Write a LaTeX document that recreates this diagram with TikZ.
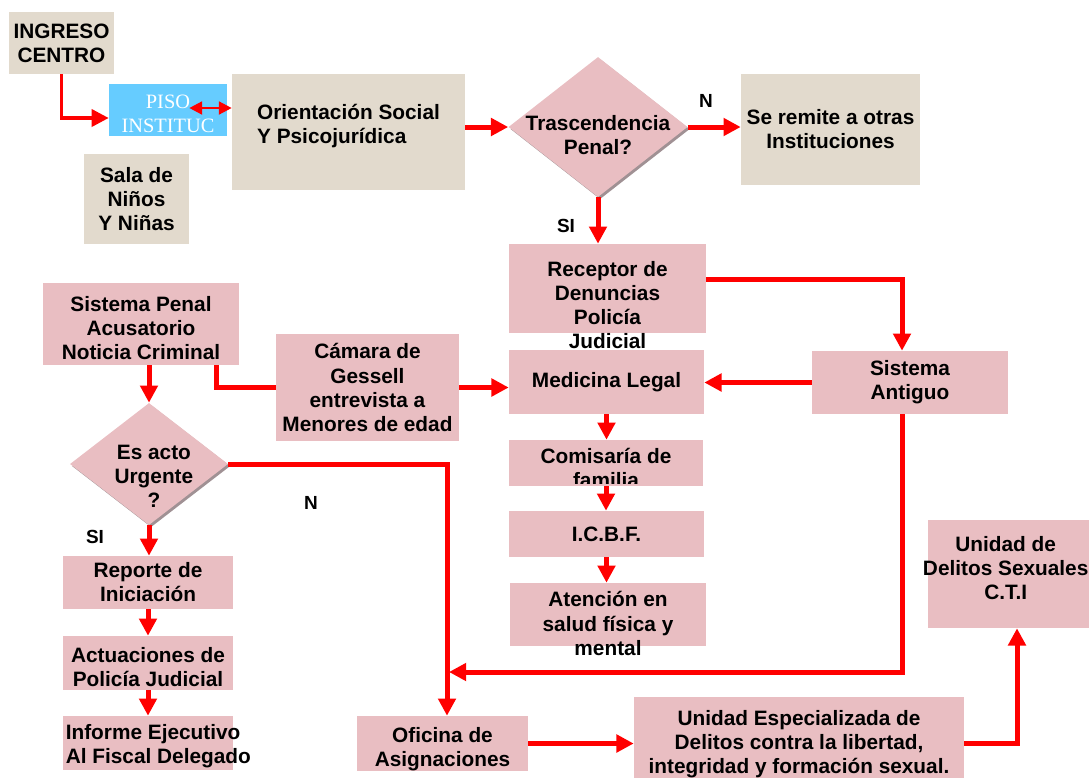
\documentclass[tikz,border=0pt]{standalone}
\usepackage{fontspec}
\setmainfont{Liberation Sans}
\newfontfamily\fuenteserif{Liberation Serif}
\usetikzlibrary{shapes.geometric,arrows.meta,calc,shadows}
\definecolor{fondobeige}{RGB}{226,218,205}
\definecolor{fondorosa}{RGB}{233,190,194}
\definecolor{celeste}{RGB}{102,204,255}
\definecolor{rojo}{RGB}{255,0,0}
\definecolor{sombra}{RGB}{160,145,148}

\tikzset{
  caja/.style={rectangle, inner sep=0pt, align=center, font=\bfseries\fontsize{14.8}{17.1}\selectfont},
  cajabeige/.style={caja, fill=fondobeige},
  cajarosa/.style={caja, fill=fondorosa},
  rombo/.style={diamond, inner sep=0pt, fill=fondorosa, drop shadow={shadow xshift=1.5pt, shadow yshift=-1.5pt, fill=sombra, opacity=1}},
  texto/.style={inner sep=0pt, align=center, font=\bfseries\fontsize{14.8}{17.1}\selectfont},
  etiqueta/.style={inner sep=0pt, font=\bfseries\fontsize{13.5}{15}\selectfont},
  flecha/.style={draw=rojo, line width=0.125cm, -{Triangle[length=0.43cm, width=0.43cm]}},
  linea/.style={draw=rojo, line width=0.125cm},
  dobleflecha/.style={draw=rojo, line width=0.06cm, {Triangle[length=0.32cm, width=0.32cm]}-{Triangle[length=0.32cm, width=0.32cm]}},
}

\begin{document}
\begin{tikzpicture}[x=0.025cm, y=-0.025cm]
\useasboundingbox (0,0) rectangle (1090,778);

% entrada
\node[cajabeige, minimum width=2.625cm, minimum height=1.55cm] (ingreso) at (61.5,43) {INGRESO\\CENTRO};
\node[caja, fill=celeste, minimum width=2.95cm, minimum height=1.3cm, label={[texto, text=white, font=\fuenteserif\fontsize{14.5}{17}\selectfont, yshift=-2.5pt]center:PISO\\INSTITUC}] (piso) at (168,110) {};
\node[cajabeige, minimum width=5.825cm, minimum height=2.9cm, label={[texto, align=left, yshift=4.3pt]center:Orientación Social\\Y Psicojurídica}] (orient) at (348.5,132) {};
\node[cajabeige, minimum width=2.625cm, minimum height=2.25cm] (sala) at (136.5,199) {Sala de\\Niños\\Y Niñas};
\node[rombo, minimum width=4.475cm, minimum height=3.5cm, label={[texto, yshift=-5.8pt]center:Trascendencia\\Penal?}] (trasc) at (598,127) {};
\node[cajabeige, minimum width=4.475cm, minimum height=2.775cm] (remite) at (830.5,129.5) {Se remite a otras\\Instituciones};

% columna central
\node[cajarosa, minimum width=4.875cm, minimum height=1.6cm] (medicina) at (606.5,382) {Medicina Legal};
\node[cajarosa, minimum width=4.925cm, minimum height=2.225cm, label={[texto, yshift=-11.7pt]center:Receptor de\\Denuncias\\Policía\\Judicial}] (receptor) at (607.5,288.5) {};
\node[cajarosa, minimum width=4.85cm, minimum height=1.15cm] (comisaria) at (606,463) {};
\begin{scope}
\clip (comisaria.north west) rectangle ($(comisaria.south east)+(0,-3)$);
\node[texto] (comisariatexto) at ($(comisaria)+(0,4.5)$) {Comisaría de\\familia};
\end{scope}
\node[cajarosa, minimum width=4.875cm, minimum height=1.15cm] (icbf) at (606.5,534) {I.C.B.F.};
\node[cajarosa, minimum width=4.9cm, minimum height=1.575cm, label={[texto, yshift=-6.4pt]center:Atención en\\salud física y\\mental}] (atencion) at (608,614.5) {};
\node[cajarosa, minimum width=4.9cm, minimum height=1.575cm] (antiguo) at (910,382.5) {Sistema\\Antiguo};

% sistema penal acusatorio
\node[cajarosa, minimum width=4.9cm, minimum height=2.05cm, label={[texto, yshift=-2.8pt]center:Sistema Penal\\Acusatorio\\Noticia Criminal}] (penal) at (141,324) {};
\node[cajarosa, minimum width=4.575cm, minimum height=2.675cm] (camara) at (367.5,387.5) {Cámara de\\Gessell\\entrevista a\\Menores de edad};
\node[rombo, minimum width=3.95cm, minimum height=3.05cm, label={[texto, xshift=3.5pt, yshift=-8.5pt]center:Es acto\\Urgente\\?}] (esacto) at (149,464) {};
\node[cajarosa, minimum width=4.25cm, minimum height=1.325cm] (reporte) at (148,582.5) {Reporte de\\Iniciación};
\node[cajarosa, minimum width=4.25cm, minimum height=1.35cm, label={[texto, yshift=-2.8pt]center:Actuaciones de\\Policía Judicial}] (actuaciones) at (148,663) {};
\node[cajarosa, minimum width=4.25cm, minimum height=1.35cm, label={[texto, align=left, anchor=west, xshift=2pt, yshift=-2.1pt]west:Informe Ejecutivo\\Al Fiscal Delegado}] (informe) at (148,743) {};
\node[cajarosa, minimum width=4.275cm, minimum height=1.375cm, label={[texto, yshift=-4.3pt]center:Oficina de\\Asignaciones}] (oficina) at (442.5,743.5) {};
\node[cajarosa, minimum width=8.25cm, minimum height=2.025cm, label={[texto, yshift=-5pt]center:Unidad Especializada de\\Delitos contra la libertad,\\integridad y formación sexual.}] (especializada) at (799,737.5) {};
\node[cajarosa, minimum width=4.025cm, minimum height=2.7cm, label={[texto, xshift=-2pt, yshift=4.3pt]center:Unidad de\\Delitos Sexuales\\C.T.I}] (sexuales) at (1008.5,574) {};

% etiquetas
\node[etiqueta] (trascno) at (706,101) {N};
\node[etiqueta] (trascsi) at (566,226) {SI};
\node[etiqueta] (urgenteno) at (311,503) {N};
\node[etiqueta] (urgentesi) at (95,537) {SI};

% flechas
\coordinate (pisoflecha) at ($(piso.east)+(-38,-2)$);
\coordinate (junta) at (447,672);
\draw[flecha, line width=0.09cm] (ingreso.south) |- ($(piso.west)+(0,8)$);
\draw[dobleflecha] (pisoflecha) -- (pisoflecha -| orient.west);
\draw[flecha] (orient.east |- trasc.west) -- (trasc.west);
\draw[flecha] (trasc.east) -- (trasc.east -| remite.west);
\draw[flecha] (trasc.south) -- (trasc.south |- receptor.north);
\draw[flecha] ($(receptor.east)+(0,-9.5)$) -| ($(antiguo.north)+(-8,0)$);
\draw[flecha] (antiguo.west) -- (antiguo.west -| medicina.east);
\draw[flecha] ($(antiguo.south)+(-8,0)$) |- ($(junta)+(2,0)$);
\draw[flecha] (camara.east) -- (camara.east -| medicina.west);
\draw[linea] ($(penal.south)+(75,0)$) |- (camara.west);
\draw[flecha] (esacto.north |- penal.south) -- (esacto.north);
\draw[flecha] (esacto.east) -| (junta) -- (junta |- oficina.north);
\draw[flecha] (esacto.south) -- (esacto.south |- reporte.north);
\draw[flecha] (reporte.south) -- (actuaciones.north);
\draw[flecha] (actuaciones.south) -- (informe.north);
\draw[flecha] (medicina.south) -- (medicina.south |- comisaria.north);
\draw[flecha] (comisaria.south) -- (comisaria.south |- icbf.north);
\draw[flecha] (icbf.south) -- (icbf.south |- atencion.north);
\draw[flecha] (oficina.east) -- (oficina.east -| especializada.west);
\draw[flecha] (oficina.east -| especializada.east) -| ($(sexuales.south)+(8.5,0)$);
\end{tikzpicture}
\end{document}
